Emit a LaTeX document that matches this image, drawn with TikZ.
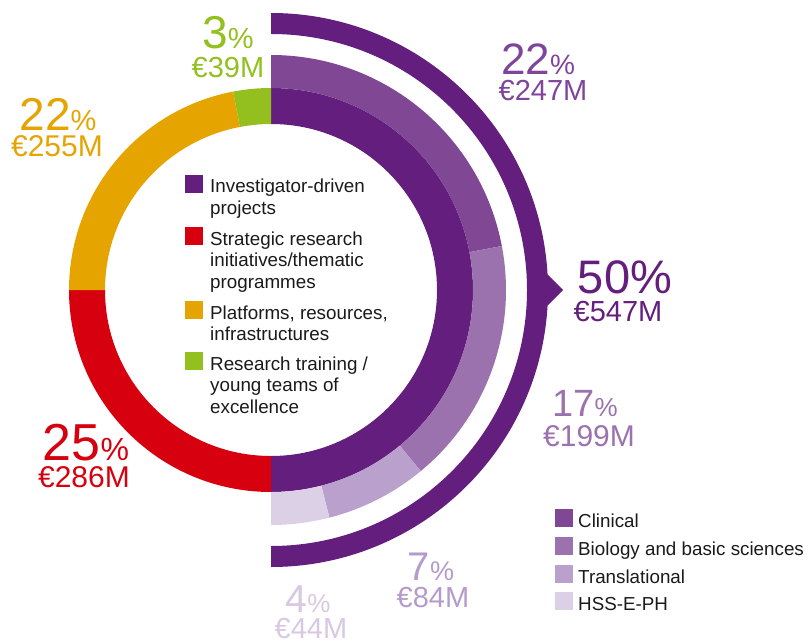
\documentclass[tikz,border=0pt]{standalone}
\usepackage{fontspec}
\setmainfont{Liberation Sans}
\definecolor{dpurple}{HTML}{641E7D}
\definecolor{clin}{HTML}{7F4794}
\definecolor{bio}{HTML}{9C72AE}
\definecolor{trans}{HTML}{B9A0CD}
\definecolor{hss}{HTML}{DCD0E7}
\definecolor{cred}{HTML}{D7000F}
\definecolor{corange}{HTML}{E5A400}
\definecolor{cgreen}{HTML}{93C01F}
\definecolor{txt}{HTML}{1A1A1A}
\definecolor{clinlbl}{HTML}{80449A}
\definecolor{biolbl}{HTML}{9C72AE}
\definecolor{translbl}{HTML}{B59BCB}
\definecolor{hsslbl}{HTML}{D8C8E3}
\newcommand{\ringpart}[5]{\fill[#5] (#1:#4) arc[start angle=#1,end angle=#2,radius=#4] -- (#2:#3) arc[start angle=#2,end angle=#1,radius=#3] -- cycle;}
\newcommand{\bigpct}[3]{\fontsize{#1}{#1}\selectfont #3\fontsize{#2}{#2}\selectfont\%}
\newcommand{\amt}[2]{\fontsize{#1}{#1}\selectfont #2}
\newcommand{\leglines}[1]{\begin{tabular}[t]{@{}l@{}}#1\end{tabular}}
\tikzset{
  lab/.style={inner sep=0pt, anchor=center},
  legtext/.style={inner sep=0pt, anchor=base west, text=txt, font=\fontsize{18.8}{21.5}\selectfont},
}
\begin{document}
\begin{tikzpicture}[x=1pt,y=1pt]
\useasboundingbox (0,0) rectangle (810,641);
\begin{scope}[shift={(271,351)}]
  % inner ring
  \ringpart{90}{-90}{166}{202}{dpurple}
  \ringpart{-90}{-180}{166}{202}{cred}
  \ringpart{180}{100.8}{166}{202}{corange}
  \ringpart{100.8}{90}{166}{202}{cgreen}
  % middle ring
  \ringpart{90}{10.8}{202}{235}{clin}
  \ringpart{10.8}{-50.4}{202}{235}{bio}
  \ringpart{-50.4}{-75.6}{202}{235}{trans}
  \ringpart{-75.6}{-90}{202}{235}{hss}
  % outer bracket arc with pointer
  \fill[dpurple] (90:277) arc[start angle=90,end angle=3.2,radius=277] -- (0:292) -- (-3.2:277)
     arc[start angle=-3.2,end angle=-90,radius=277] -- (-90:256)
     arc[start angle=-90,end angle=90,radius=256] -- cycle;
\end{scope}

% percentage labels
\node[lab, text=corange] (orpct) at (58,526) {\bigpct{46}{29}{22}};
\node[lab, text=corange] (oramt) at (57,495) {\amt{30}{€255M}};
\node[lab, text=cgreen] (grpct) at (228,608) {\bigpct{46}{29}{3}};
\node[lab, text=cgreen] (gramt) at (228,573) {\amt{29}{€39M}};
\node[lab, text=clinlbl] (clpct) at (538,582) {\bigpct{44}{28}{22}};
\node[lab, text=clinlbl] (clamt) at (543,550) {\amt{29}{€247M}};
\node[lab, text=dpurple] (pupct) at (625,364) {\bigpct{47}{47}{50}};
\node[lab, text=dpurple] (puamt) at (618,329) {\amt{29}{€547M}};
\node[lab, text=biolbl] (bipct) at (585,237) {\bigpct{38}{26}{17}};
\node[lab, text=biolbl] (biamt) at (589,205) {\amt{30}{€199M}};
\node[lab, text=translbl] (trpct) at (431,74) {\bigpct{40}{27}{7}};
\node[lab, text=translbl] (tramt) at (433,43) {\amt{29}{€84M}};
\node[lab, text=hsslbl] (hspct) at (308,42) {\bigpct{39}{26}{4}};
\node[lab, text=hsslbl] (hsamt) at (311,12) {\amt{29}{€44M}};
\node[lab, text=cred] (rdpct) at (86,198) {\bigpct{52}{32}{25}};
\node[lab, text=cred] (rdamt) at (84,164) {\amt{30}{€286M}};

% inner legend
\fill[dpurple] (185,448) rectangle (203,466);
\node[legtext] (l1) at (210,448) {\leglines{Investigator-driven\\projects}};
\fill[cred] (185,396) rectangle (203,414);
\node[legtext] (l2) at (210,396) {\leglines{Strategic research\\initiatives/thematic\\programmes}};
\fill[corange] (185,322) rectangle (203,340);
\node[legtext] (l3) at (210,322) {\leglines{Platforms, resources,\\infrastructures}};
\fill[cgreen] (185,271) rectangle (203,289);
\node[legtext] (l4) at (210,271) {\leglines{Research training /\\young teams of\\excellence}};

% right legend
\fill[clin] (555,114) rectangle (573,132);
\node[legtext] (r1) at (578,114) {Clinical};
\fill[bio] (555,86) rectangle (573,104);
\node[legtext] (r2) at (578,86) {Biology and basic sciences};
\fill[trans] (555,58) rectangle (573,76);
\node[legtext] (r3) at (578,58) {Translational};
\fill[hss] (555,31) rectangle (573,49);
\node[legtext] (r4) at (578,31) {HSS-E-PH};
\end{tikzpicture}
\end{document}
